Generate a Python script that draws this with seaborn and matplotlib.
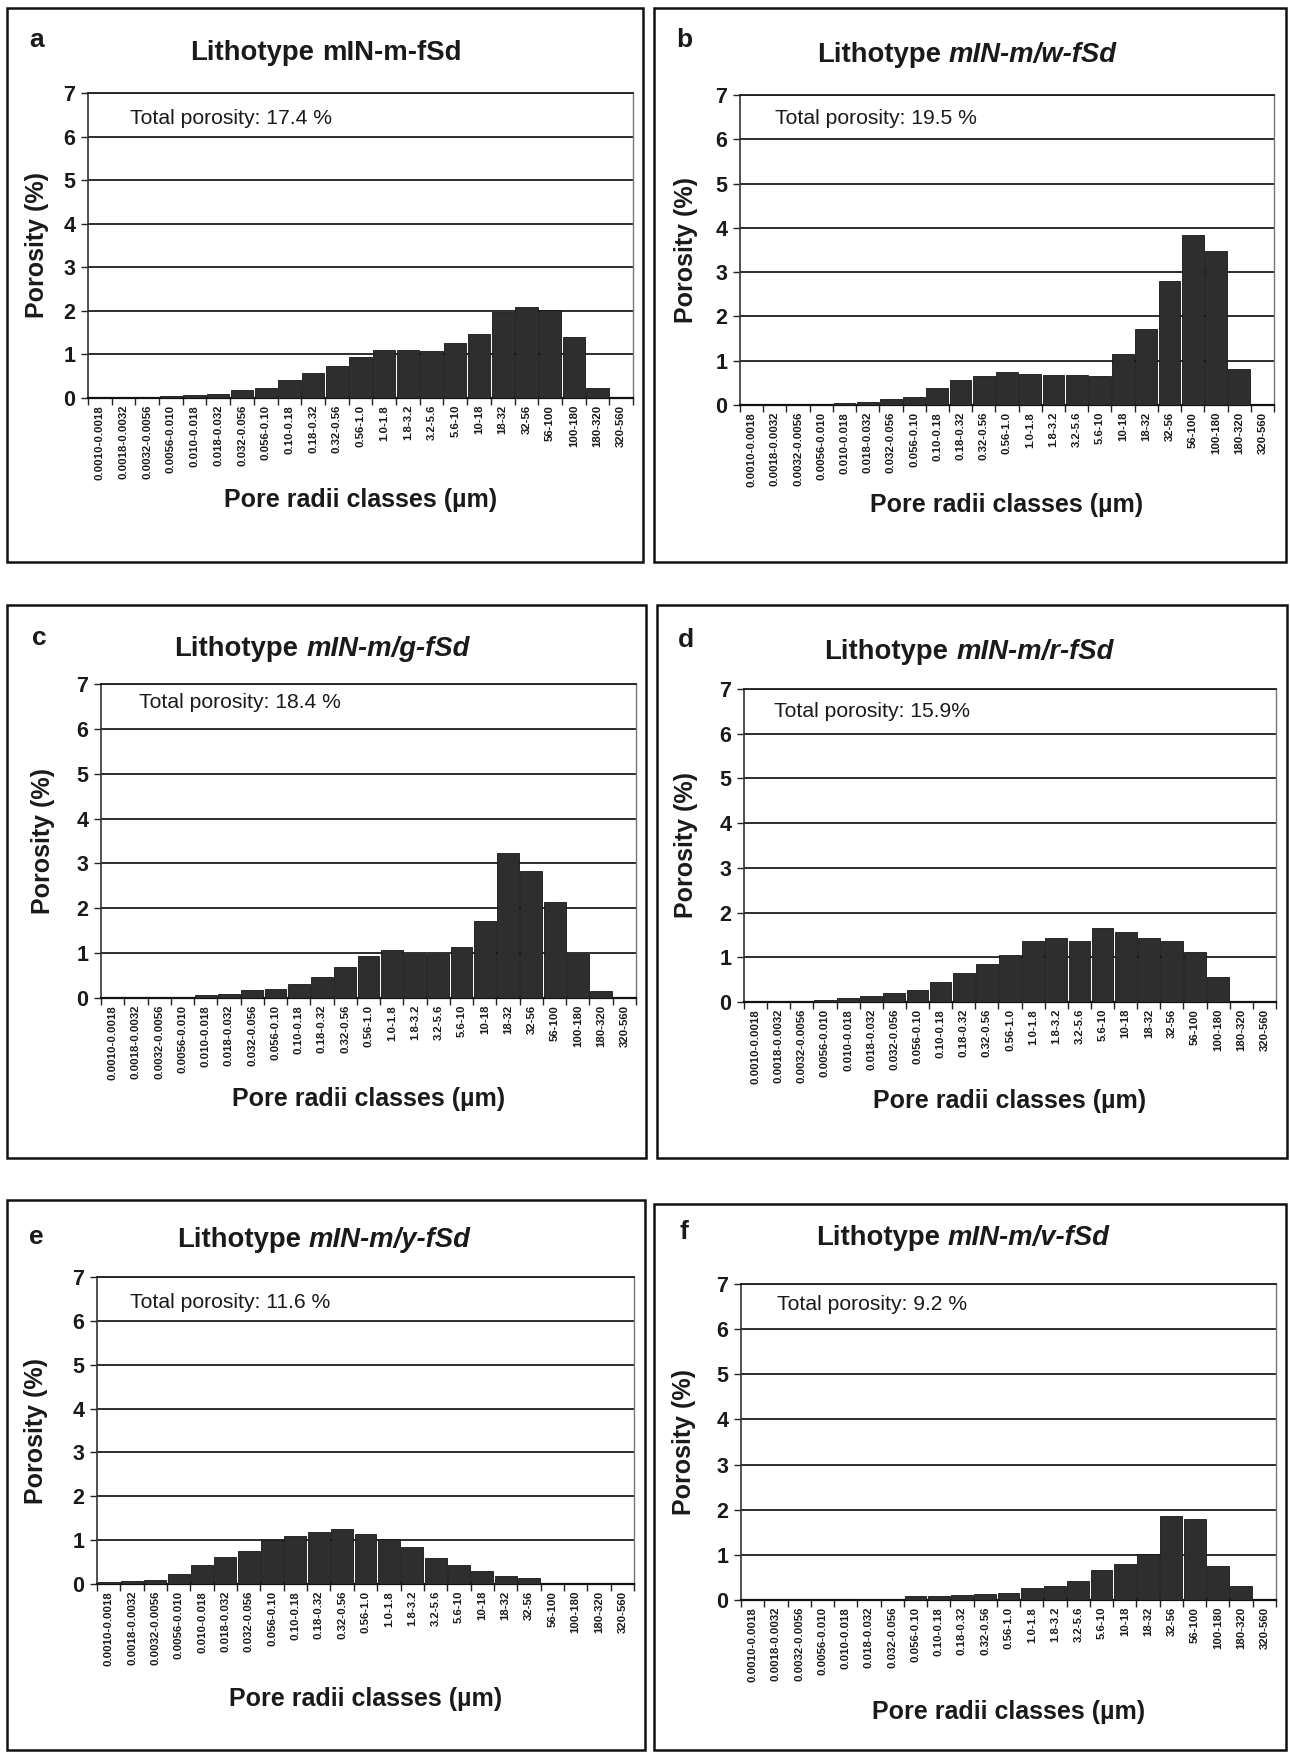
import numpy as np
import pandas as pd
import matplotlib
matplotlib.use("Agg")
import matplotlib.pyplot as plt
import seaborn as sns
from matplotlib.patches import Rectangle
from matplotlib.ticker import FixedLocator

sns.set_theme(style="white")
plt.rcParams["font.family"] = ["Liberation Sans", "DejaVu Sans"]

# ---------------- data ----------------
categories = ["0.0010-0.0018", "0.0018-0.0032", "0.0032-0.0056", "0.0056-0.010",
              "0.010-0.018", "0.018-0.032", "0.032-0.056", "0.056-0.10",
              "0.10-0.18", "0.18-0.32", "0.32-0.56", "0.56-1.0", "1.0-1.8",
              "1.8-3.2", "3.2-5.6", "5.6-10", "10-18", "18-32", "32-56",
              "56-100", "100-180", "180-320", "320-560"]

values_a = [0.0, 0.005, 0.01, 0.04, 0.07, 0.10, 0.18, 0.23, 0.41, 0.58, 0.74, 0.94,
            1.11, 1.11, 1.09, 1.26, 1.48, 1.97, 2.08, 2.03, 1.40, 0.24, 0.0]
values_b = [0.0, 0.0, 0.005, 0.01, 0.04, 0.07, 0.13, 0.17, 0.39, 0.57, 0.65, 0.74,
            0.70, 0.68, 0.68, 0.65, 1.15, 1.71, 2.80, 3.83, 3.47, 0.82, 0.0]
values_c = [0.0, 0.005, 0.01, 0.03, 0.07, 0.10, 0.17, 0.20, 0.32, 0.46, 0.70, 0.94,
            1.06, 0.98, 0.98, 1.13, 1.71, 3.23, 2.83, 2.13, 0.98, 0.16, 0.0]
values_d = [0.005, 0.01, 0.02, 0.04, 0.10, 0.13, 0.21, 0.26, 0.45, 0.65, 0.85, 1.05,
            1.37, 1.43, 1.37, 1.65, 1.57, 1.43, 1.37, 1.11, 0.56, 0.0, 0.0]
values_e = [0.04, 0.06, 0.10, 0.23, 0.44, 0.61, 0.75, 1.00, 1.10, 1.19, 1.26, 1.15,
            1.02, 0.85, 0.60, 0.43, 0.30, 0.19, 0.14, 0.01, 0.0, 0.0, 0.0]
values_f = [0.0, 0.0, 0.0, 0.0, 0.01, 0.02, 0.03, 0.08, 0.08, 0.10, 0.13, 0.16,
            0.27, 0.31, 0.42, 0.66, 0.80, 1.02, 1.85, 1.79, 0.75, 0.31, 0.0]

panel_letters = ["a", "b", "c", "d", "e", "f"]
lithotypes = ["mIN-m-fSd", "mIN-m/w-fSd", "mIN-m/g-fSd", "mIN-m/r-fSd",
              "mIN-m/y-fSd", "mIN-m/v-fSd"]
lithotype_italic = [False, True, True, True, True, True]
total_porosity = ["Total porosity: 17.4 %", "Total porosity: 19.5 %",
                  "Total porosity: 18.4 %", "Total porosity: 15.9%",
                  "Total porosity: 11.6 %", "Total porosity: 9.2 %"]
series = [values_a, values_b, values_c, values_d, values_e, values_f]

y_label = "Porosity (%)"
x_label = "Pore radii classes (µm)"

# ---------------- layout (pixels) ----------------
W, H = 1290, 1753
fig = plt.figure(figsize=(W / 100, H / 100), dpi=100)
fig.patch.set_facecolor("white")

def fx(x):
    return x / W

def fy(y):
    return 1 - y / H

boxes = [(7, 8, 643, 562), (654, 8, 1286, 562),
         (7, 605, 646, 1158), (657, 605, 1287, 1158),
         (7, 1200, 645, 1750), (654, 1204, 1286, 1750)]
axes_px = [(88, 93, 633, 398), (740, 95, 1274, 405),
           (101, 684, 636, 998), (744, 689, 1276, 1002),
           (97, 1277, 634, 1584), (741, 1284, 1276, 1600)]
letter_pos = [(37, 40), (684, 40), (39, 638), (686, 640), (36, 1237), (684, 1232)]
title_pos = [(326, 53), (967, 55), (322, 649), (969, 652), (324, 1240), (963, 1238)]
total_pos = [(130, 119), (775, 118), (139, 702), (774, 711), (130, 1302), (777, 1304)]
ylabel_x = [37, 686, 43, 686, 36, 684]
xlabel_y = [500, 505, 1099, 1101, 1699, 1712]

bar_color = "#2e2e2e"
grid_color = "#1e1e1e"
text_color = "#1a1a1a"
title_size = 19.8

renderer = fig.canvas.get_renderer()

for i in range(6):
    bl, bt, br, bb = boxes[i]
    fig.patches.append(Rectangle((fx(bl), fy(bb)), fx(br) - fx(bl), fy(bt) - fy(bb),
                                 transform=fig.transFigure, fill=False,
                                 edgecolor="#111111", linewidth=1.8, zorder=0))
    l, t, r, b = axes_px[i]
    ax = fig.add_axes([fx(l), fy(b), (r - l) / W, (b - t) / H])
    df = pd.DataFrame({"cls": categories, "por": series[i]})
    sns.barplot(data=df, x="cls", y="por", ax=ax, order=categories,
                color=bar_color, saturation=1, width=0.94,
                edgecolor="#151515", linewidth=0.6, zorder=3)
    ax.set_xlim(-0.5, len(categories) - 0.5)
    ax.set_ylim(0, 7)
    ax.set_yticks(range(8))
    ax.set_yticklabels([str(v) for v in range(8)], fontsize=15.5, fontweight="bold",
                       color=text_color)
    ax.set_xticks(range(len(categories)))
    ax.set_xticklabels(categories, rotation=90, fontsize=8.2, fontweight="bold",
                       color=text_color)
    ax.xaxis.set_minor_locator(FixedLocator(np.arange(-0.5, len(categories), 1.0)))
    ax.tick_params(axis="x", which="major", length=0, pad=5)
    ax.tick_params(axis="x", which="minor", length=5, width=1, color="#222222",
                   direction="out", bottom=True)
    ax.tick_params(axis="y", which="major", length=5, width=1, color="#222222",
                   direction="out", left=True, pad=4)
    ax.yaxis.grid(True, color=grid_color, linewidth=1.3)
    ax.xaxis.grid(False)
    ax.set_axisbelow(True)
    for side, lw, col in [("left", 1.2, "#333333"), ("bottom", 1.6, "#111111"),
                          ("top", 1.3, "#1e1e1e"), ("right", 1.0, "#777777")]:
        ax.spines[side].set_visible(True)
        ax.spines[side].set_linewidth(lw)
        ax.spines[side].set_color(col)
    ax.set_facecolor("white")

    ax.set_ylabel(y_label, fontsize=18, fontweight="bold", color=text_color)
    ax.yaxis.set_label_coords(fx(ylabel_x[i]), fy((t + b) / 2), transform=fig.transFigure)
    ax.yaxis.label.set_va("center")
    ax.set_xlabel(x_label, fontsize=18, fontweight="bold", color=text_color)
    ax.xaxis.set_label_coords(fx((l + r) / 2), fy(xlabel_y[i]), transform=fig.transFigure)
    ax.xaxis.label.set_va("center")

    tx, ty = total_pos[i]
    fig.text(fx(tx), fy(ty), total_porosity[i], fontsize=15.2, color=text_color,
             ha="left", va="center")

    lx, ly = letter_pos[i]
    fig.text(fx(lx), fy(ly), panel_letters[i], fontsize=19, fontweight="bold",
             color=text_color, ha="center", va="center")

    # Title: "Lithotype " upright + lithotype name (italic for b-f)
    cx, cy = title_pos[i]
    t1 = fig.text(0, fy(cy), "Lithotype", fontsize=title_size, fontweight="bold",
                  color=text_color, ha="left", va="center")
    t2 = fig.text(0, fy(cy), lithotypes[i], fontsize=title_size, fontweight="bold",
                  style="italic" if lithotype_italic[i] else "normal",
                  color=text_color, ha="left", va="center")
    w1 = t1.get_window_extent(renderer).width
    w2 = t2.get_window_extent(renderer).width
    space = 0.278 * title_size * 100 / 72
    x0 = cx - (w1 + space + w2) / 2
    t1.set_x(fx(x0))
    t2.set_x(fx(x0 + w1 + space))

fig.savefig("out.png", dpi=100, facecolor="white")
